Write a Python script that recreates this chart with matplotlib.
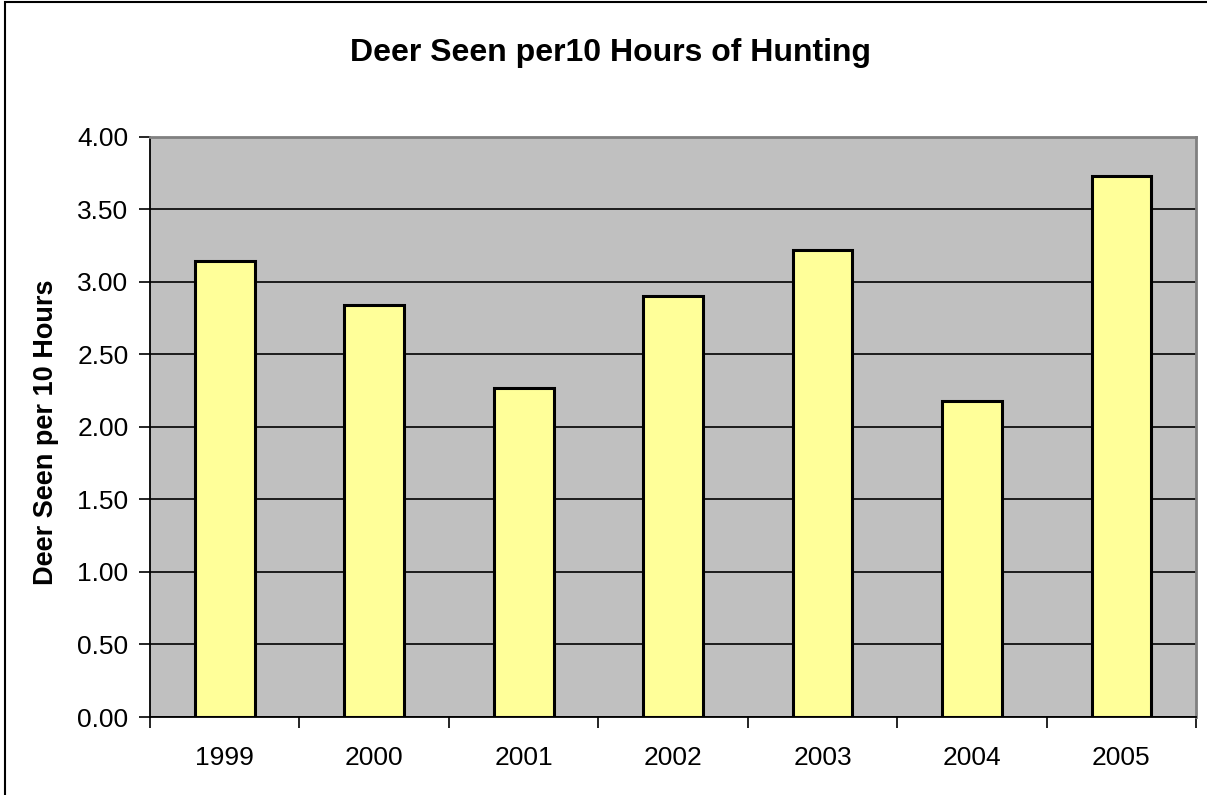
import matplotlib.pyplot as plt
import numpy as np
from matplotlib.patches import Rectangle

years = ["1999", "2000", "2001", "2002", "2003", "2004", "2005"]
deer_per_10h = [3.14, 2.84, 2.27, 2.90, 3.22, 2.18, 3.73]
y_ticks = [0.0, 0.5, 1.0, 1.5, 2.0, 2.5, 3.0, 3.5, 4.0]

plt.rcParams['font.family'] = ['Liberation Sans', 'DejaVu Sans']

fig = plt.figure(figsize=(12.07, 7.95), dpi=100)
ax = fig.add_axes([0.1243, 0.0981, 0.8667, 0.7300])
ax.set_facecolor('#C0C0C0')

x = np.arange(len(years))
ax.bar(x, deer_per_10h, width=0.4, color='#FFFF99', edgecolor='black',
       linewidth=2.2, zorder=3)

ax.set_xlim(-0.5, len(years) - 0.5)
ax.set_ylim(0, 4)
ax.set_yticks(y_ticks)
ax.set_yticklabels(["%.2f" % v for v in y_ticks])
ax.yaxis.grid(True, color='black', linewidth=1.2, zorder=1)
ax.set_axisbelow(True)

ax.set_xticks(x)
ax.set_xticklabels(years)
ax.set_xticks(np.arange(len(years) + 1) - 0.5, minor=True)
ax.tick_params(axis='x', which='major', length=0, pad=21, labelsize=19)
ax.tick_params(axis='x', which='minor', length=8, width=1.2, direction='out')
ax.tick_params(axis='y', length=8, width=1.2, direction='out', pad=7.5, labelsize=19)

for side in ['left', 'bottom']:
    ax.spines[side].set_color('black')
    ax.spines[side].set_linewidth(1.3)
for side in ['top', 'right']:
    ax.spines[side].set_color('#808080')
    ax.spines[side].set_linewidth(2)

ax.set_ylabel("Deer Seen per 10 Hours", fontsize=19.5, fontweight='bold')
ax.yaxis.set_label_coords(-0.0867, 0.491)
fig.text(0.506, 0.9237, "Deer Seen per10 Hours of Hunting", ha='center', va='baseline',
         fontsize=23, fontweight='bold')

# chart frame: only top and left edges show in the original
fig.patches.append(Rectangle((0.004, -0.01), 1.2, 1.0075, transform=fig.transFigure,
                             fill=False, edgecolor='black', linewidth=1.5))

fig.savefig("out.png", dpi=100)
